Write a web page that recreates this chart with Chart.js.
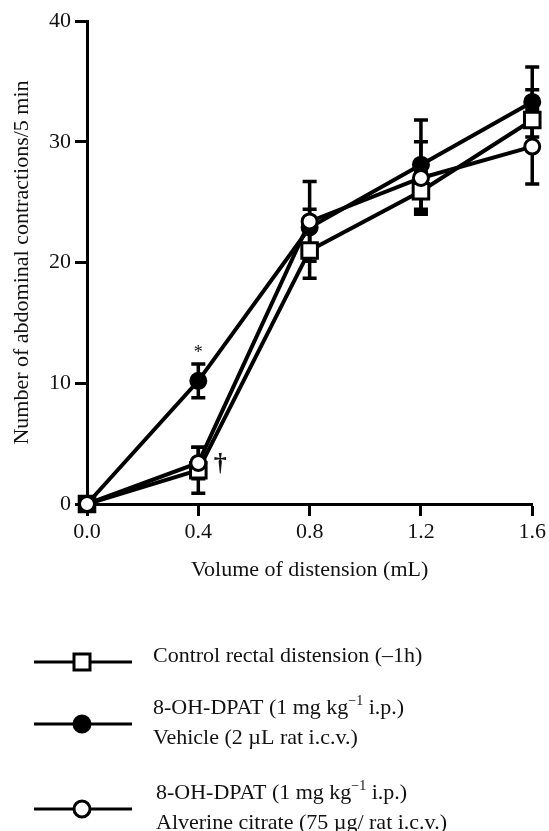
<!DOCTYPE html>
<html>
<head>
<meta charset="utf-8">
<script src="https://cdn.jsdelivr.net/npm/chart.js@4.4.1/dist/chart.umd.min.js"></script>
<style>
  html, body { margin: 0; padding: 0; background: #fff; }
  #wrap { width: 549px; height: 831px; }
</style>
</head>
<body>
<div id="wrap"><canvas id="chart" width="549" height="831"></canvas></div>
<script>
// data
const volumes = [0, 0.4, 0.8, 1.2, 1.6];
const controlMean = [0, 2.8, 21.0, 25.9, 31.8];
const controlErr = [0, 1.9, 2.3, 1.7, 2.5];
const vehicleMean = [0, 10.2, 22.9, 28.1, 33.3];
const vehicleErr = [0, 1.4, 1.5, 3.7, 2.9];
const alverineMean = [0, 3.4, 23.4, 27.0, 29.6];
const alverineErr = [0, 1.3, 3.3, 3.0, 3.1];
const xTicks = [0, 0.4, 0.8, 1.2, 1.6];
const yTicks = [0, 10, 20, 30, 40];

const SERIF = '"Liberation Serif", "Times New Roman", serif';
const INK = '#111';

function toPoints(means) {
    return volumes.map((v, i) => ({ x: v, y: means[i] }));
}

// vertical error bars with caps, drawn under the markers
const errorBars = {
    id: 'errorBars',
    beforeDatasetsDraw(chart) {
        const ctx = chart.ctx;
        const x = chart.scales.x, y = chart.scales.y;
        ctx.save();
        ctx.strokeStyle = '#000';
        ctx.lineWidth = 3.5;
        chart.data.datasets.forEach(ds => {
            ds.errors.forEach((e, i) => {
                if (!e) return;
                const px = x.getPixelForValue(volumes[i]);
                const top = y.getPixelForValue(ds.means[i] + e);
                const bot = y.getPixelForValue(ds.means[i] - e);
                ctx.beginPath();
                ctx.moveTo(px, top); ctx.lineTo(px, bot);
                ctx.moveTo(px - 7, top); ctx.lineTo(px + 7, top);
                ctx.moveTo(px - 7, bot); ctx.lineTo(px + 7, bot);
                ctx.stroke();
            });
        });
        ctx.restore();
    }
};

// significance marks next to the 0.4 mL points
const marks = {
    id: 'marks',
    afterDatasetsDraw(chart) {
        const ctx = chart.ctx;
        const x = chart.scales.x, y = chart.scales.y;
        const px = x.getPixelForValue(volumes[1]);
        ctx.save();
        ctx.fillStyle = INK;
        ctx.textAlign = 'center';
        ctx.textBaseline = 'middle';
        ctx.font = '18px ' + SERIF;
        ctx.fillText('*', px, y.getPixelForValue(vehicleMean[1] + vehicleErr[1]) - 11);
        ctx.font = 'bold 26px ' + SERIF;
        ctx.fillText('†', px + 22, y.getPixelForValue(alverineMean[1]) + 1);
        ctx.restore();
    }
};

function drawRich(ctx, x, y, parts) {
    let cx = x;
    parts.forEach(p => {
        if (p.sup) {
            ctx.font = '14px ' + SERIF;
            ctx.fillText(p.t, cx, y - 7);
        } else {
            ctx.font = '22px ' + SERIF;
            ctx.fillText(p.t, cx, y);
        }
        cx += ctx.measureText(p.t).width;
    });
}

function drawMarker(ctx, style, cx, cy) {
    ctx.lineWidth = 3;
    ctx.strokeStyle = '#000';
    if (style === 'rect') {
        ctx.fillStyle = '#fff';
        ctx.fillRect(cx - 8, cy - 8, 16, 16);
        ctx.strokeRect(cx - 8, cy - 8, 16, 16);
    } else {
        ctx.beginPath();
        ctx.arc(cx, cy, 8, 0, Math.PI * 2);
        ctx.fillStyle = style === 'filled' ? '#000' : '#fff';
        ctx.fill();
        ctx.stroke();
    }
}

// legend under the plot, like the printed figure
const legendBox = {
    id: 'legendBox',
    afterDraw(chart) {
        const ctx = chart.ctx;
        const items = [
            { style: 'rect', y: 662, tx: 153, lines: [[{ t: 'Control rectal distension (\u20131h)' }]] },
            { style: 'filled', y: 724, tx: 153, lines: [
                [{ t: '8-OH-DPAT (1 mg kg' }, { t: '\u22121', sup: true }, { t: ' i.p.)' }],
                [{ t: 'Vehicle (2 \u00b5L rat i.c.v.)' }]
            ] },
            { style: 'open', y: 809, tx: 156, lines: [
                [{ t: '8-OH-DPAT (1 mg kg' }, { t: '\u22121', sup: true }, { t: ' i.p.)' }],
                [{ t: 'Alverine citrate (75 \u00b5g/ rat i.c.v.)' }]
            ] }
        ];
        ctx.save();
        items.forEach(it => {
            ctx.strokeStyle = '#000';
            ctx.lineWidth = 3;
            ctx.beginPath();
            ctx.moveTo(34, it.y); ctx.lineTo(132, it.y);
            ctx.stroke();
            drawMarker(ctx, it.style, 82, it.y);
            ctx.fillStyle = INK;
            ctx.textAlign = 'left';
            ctx.textBaseline = 'middle';
            const n = it.lines.length;
            it.lines.forEach((ln, k) => {
                const ty = n === 1 ? it.y - 6 : it.y - 16 + k * 30;
                drawRich(ctx, it.tx, ty, ln);
            });
        });
        ctx.restore();
    }
};

const lineDs = (label, means, errs, style, order) => ({
    label: label,
    data: toPoints(means),
    means: means,
    errors: errs,
    order: order,
    clip: false,
    borderColor: '#000',
    borderWidth: 4,
    tension: 0,
    pointStyle: style === 'rect' ? 'rect' : 'circle',
    pointRadius: style === 'rect' ? 11 : 7.5,
    pointBorderWidth: 3,
    pointBorderColor: '#000',
    pointBackgroundColor: style === 'filled' ? '#000' : '#fff'
});

new Chart(document.getElementById('chart'), {
    type: 'line',
    data: {
        datasets: [
            lineDs('Control rectal distension (\u20131h)', controlMean, controlErr, 'rect', 2),
            lineDs('8-OH-DPAT + Vehicle', vehicleMean, vehicleErr, 'filled', 1),
            lineDs('8-OH-DPAT + Alverine citrate', alverineMean, alverineErr, 'open', 0)
        ]
    },
    options: {
        responsive: false,
        animation: false,
        events: [],
        layout: { padding: { left: 0, right: 16, top: 21, bottom: 0 } },
        plugins: { legend: { display: false }, tooltip: { enabled: false } },
        scales: {
            x: {
                type: 'linear',
                min: 0,
                max: 1.6,
                afterBuildTicks: s => { s.ticks = xTicks.map(v => ({ value: v })); },
                afterFit: s => { s.height = 327; },
                ticks: { callback: v => v.toFixed(1), color: INK, font: { family: SERIF, size: 22 }, padding: 3, maxRotation: 0 },
                grid: { drawOnChartArea: false, tickLength: 12, tickWidth: 3, tickColor: '#000' },
                border: { color: '#000', width: 3 },
                title: { display: true, text: 'Volume of distension (mL)', color: INK,
                         font: { family: SERIF, size: 22 }, padding: { top: 0, bottom: 248 } }
            },
            y: {
                min: 0,
                max: 40,
                afterBuildTicks: s => { s.ticks = yTicks.map(v => ({ value: v })); },
                afterFit: s => { s.width = 87; },
                ticks: { color: INK, font: { family: SERIF, size: 22 }, padding: 4 },
                grid: { drawOnChartArea: false, tickLength: 12, tickWidth: 3, tickColor: '#000' },
                border: { color: '#000', width: 3 },
                title: { display: true, text: 'Number of abdominal contractions/5 min', color: INK,
                         font: { family: SERIF, size: 22 }, padding: { top: 9, bottom: 0 } }
            }
        }
    },
    plugins: [errorBars, marks, legendBox]
});
</script>
</body>
</html>
